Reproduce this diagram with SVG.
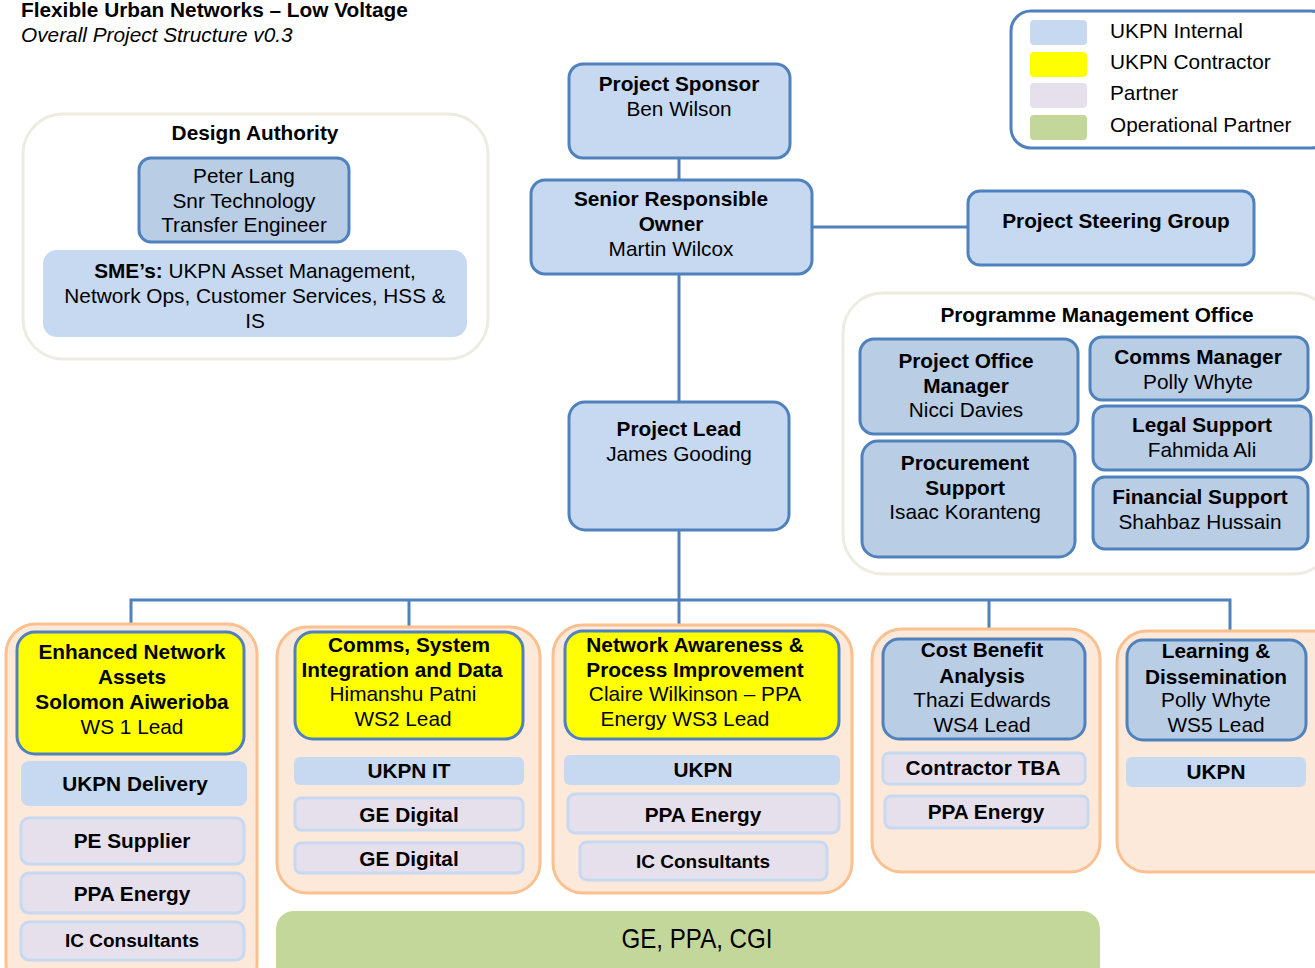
<svg xmlns="http://www.w3.org/2000/svg" width="1315" height="968" viewBox="0 0 1315 968">
<style>
text{font-family:"Liberation Sans",Arial,sans-serif;font-size:20.8px;fill:#000;text-anchor:middle}
.b{font-weight:bold}
.title{text-anchor:start}
.node{fill:#c6d9f1;stroke:#4f81bd;stroke-width:3}
.node2{fill:#b9cde5;stroke:#4f81bd;stroke-width:3}
.lead{fill:#ffff00;stroke:#4f81bd;stroke-width:3}
.grp{fill:#fff;stroke:#eeece1;stroke-width:3}
.ws{fill:#fde9d9;stroke:#fac090;stroke-width:3}
.int{fill:#c6d9f1}
.par{fill:#e6e0ec;stroke:#c6d9f1;stroke-width:3}
.op{fill:#c4d79b}
.conn{stroke:#4f81bd;stroke-width:3;fill:none}
.leg{text-anchor:start}
.sm{font-size:19px}
.big{font-size:28px}
</style>

<g id="title">
<text class="title b" x="21" y="17">Flexible Urban Networks – Low Voltage</text>
<text class="title" x="21" y="42" font-style="italic">Overall Project Structure v0.3</text>
</g>

<g id="legend">
<rect x="1011" y="11" width="320" height="137" rx="20" fill="#fff" stroke="#4f81bd" stroke-width="3"/>
<rect x="1030" y="20" width="57" height="25" rx="4" fill="#c6d9f1"/>
<rect x="1030" y="52" width="57" height="25" rx="4" fill="#ffff00"/>
<rect x="1030" y="83" width="57" height="25" rx="4" fill="#e6e0ec"/>
<rect x="1030" y="115" width="57" height="25" rx="4" fill="#c4d79b"/>
<text class="leg" x="1110" y="38">UKPN Internal</text>
<text class="leg" x="1110" y="69">UKPN Contractor</text>
<text class="leg" x="1110" y="100">Partner</text>
<text class="leg" x="1110" y="132">Operational Partner</text>
</g>

<g id="connectors">
<line class="conn" x1="679" y1="158" x2="679" y2="180"/>
<line class="conn" x1="812" y1="227" x2="968" y2="227"/>
<line class="conn" x1="679" y1="274" x2="679" y2="402"/>
<line class="conn" x1="679" y1="530" x2="679" y2="632"/>
<polyline class="conn" points="131,632 131,600 1230,600 1230,632"/>
<line class="conn" x1="409" y1="600" x2="409" y2="632"/>
<line class="conn" x1="989" y1="600" x2="989" y2="640"/>
</g>

<g id="design-authority">
<rect class="grp" x="23" y="114" width="465" height="245" rx="40"/>
<text class="b" x="255" y="140">Design Authority</text>
</g>
<g id="peter-lang">
<rect class="node2" x="139" y="158" width="210" height="84" rx="12"/>
<text x="244" y="183">Peter Lang</text>
<text x="244" y="208">Snr Technology</text>
<text x="244" y="232">Transfer Engineer</text>
</g>
<g id="smes">
<rect class="int" x="43" y="250" width="424" height="87" rx="14"/>
<text x="255" y="278"><tspan class="b">SME’s:</tspan> UKPN Asset Management,</text>
<text x="255" y="303">Network Ops, Customer Services, HSS &amp;</text>
<text x="255" y="328">IS</text>
</g>

<g id="project-sponsor">
<rect class="node" x="569" y="64" width="221" height="94" rx="14"/>
<text class="b" x="679" y="91">Project Sponsor</text>
<text x="679" y="116">Ben Wilson</text>
</g>
<g id="sro">
<rect class="node" x="531" y="180" width="281" height="94" rx="14"/>
<text class="b" x="671" y="206">Senior Responsible</text>
<text class="b" x="671" y="231">Owner</text>
<text x="671" y="256">Martin Wilcox</text>
</g>
<g id="steering-group">
<rect class="node" x="968" y="191" width="286" height="74" rx="12"/>
<text class="b" x="1116" y="228">Project Steering Group</text>
</g>
<g id="project-lead">
<rect class="node" x="569" y="402" width="220" height="128" rx="16"/>
<text class="b" x="679" y="436">Project Lead</text>
<text x="679" y="461">James Gooding</text>
</g>

<g id="pmo">
<rect class="grp" x="843" y="293" width="490" height="281" rx="40"/>
<text class="b" x="1097" y="322">Programme  Management Office</text>
</g>
<g id="project-office-manager">
<rect class="node2" x="860" y="339" width="218" height="95" rx="14"/>
<text class="b" x="966" y="368">Project Office</text>
<text class="b" x="966" y="393">Manager</text>
<text x="966" y="417">Nicci Davies</text>
</g>
<g id="procurement">
<rect class="node2" x="862" y="441" width="213" height="116" rx="16"/>
<text class="b" x="965" y="470">Procurement</text>
<text class="b" x="965" y="495">Support</text>
<text x="965" y="519">Isaac Koranteng</text>
</g>
<g id="comms-manager">
<rect class="node2" x="1090" y="337" width="218" height="63" rx="12"/>
<text class="b" x="1198" y="364">Comms  Manager</text>
<text x="1198" y="389">Polly  Whyte</text>
</g>
<g id="legal-support">
<rect class="node2" x="1093" y="406" width="218" height="64" rx="12"/>
<text class="b" x="1202" y="432">Legal Support</text>
<text x="1202" y="457">Fahmida  Ali</text>
</g>
<g id="financial-support">
<rect class="node2" x="1093" y="477" width="215" height="72" rx="12"/>
<text class="b" x="1200" y="504">Financial Support</text>
<text x="1200" y="529">Shahbaz  Hussain</text>
</g>

<g id="ws1">
<rect class="ws" x="6" y="624" width="251" height="370" rx="30"/>
<rect class="lead" x="17" y="632" width="227" height="122" rx="18"/>
<text class="b" x="132" y="659">Enhanced Network</text>
<text class="b" x="132" y="684">Assets</text>
<text class="b" x="132" y="709">Solomon Aiwerioba</text>
<text x="132" y="734">WS 1 Lead</text>
<rect class="int" x="21" y="761" width="226" height="45" rx="8"/>
<text class="b" x="135" y="791">UKPN Delivery</text>
<rect class="par" x="21" y="818" width="223" height="46" rx="8"/>
<text class="b" x="132" y="848">PE Supplier</text>
<rect class="par" x="21" y="873" width="223" height="40" rx="8"/>
<text class="b" x="132" y="901">PPA Energy</text>
<rect class="par" x="21" y="922" width="223" height="38" rx="8"/>
<text class="b sm" x="132" y="947">IC Consultants</text>
</g>

<g id="ws2">
<rect class="ws" x="277" y="627" width="263" height="266" rx="30"/>
<rect class="lead" x="295" y="632" width="228" height="107" rx="18"/>
<text class="b" x="409" y="652">Comms, System</text>
<text class="b" x="402" y="677">Integration and Data</text>
<text x="403" y="701">Himanshu  Patni</text>
<text x="403" y="726">WS2 Lead</text>
<rect class="int" x="294" y="757" width="230" height="28" rx="6"/>
<text class="b" x="409" y="778">UKPN IT</text>
<rect class="par" x="295" y="798" width="228" height="32" rx="6"/>
<text class="b" x="409" y="822">GE Digital</text>
<rect class="par" x="295" y="843" width="228" height="30" rx="6"/>
<text class="b" x="409" y="866">GE Digital</text>
</g>

<g id="ws3">
<rect class="ws" x="553" y="625" width="299" height="268" rx="30"/>
<rect class="lead" x="565" y="631" width="274" height="108" rx="18"/>
<text class="b" x="695" y="652">Network Awareness &amp;</text>
<text class="b" x="695" y="677">Process Improvement</text>
<text x="695" y="701">Claire Wilkinson – PPA</text>
<text x="685" y="726">Energy WS3 Lead</text>
<rect class="int" x="564" y="755" width="276" height="30" rx="6"/>
<text class="b" x="703" y="777">UKPN</text>
<rect class="par" x="568" y="794" width="271" height="39" rx="7"/>
<text class="b" x="703" y="822">PPA Energy</text>
<rect class="par" x="580" y="842" width="247" height="38" rx="7"/>
<text class="b sm" x="703" y="868">IC Consultants</text>
</g>

<g id="ws4">
<rect class="ws" x="872" y="629" width="228" height="243" rx="30"/>
<rect class="node2" x="883" y="639" width="202" height="100" rx="16"/>
<text class="b" x="982" y="657">Cost Benefit</text>
<text class="b" x="982" y="683">Analysis</text>
<text x="982" y="707">Thazi Edwards</text>
<text x="982" y="732">WS4 Lead</text>
<rect class="par" x="883" y="753" width="202" height="31" rx="6"/>
<text class="b" x="983" y="775">Contractor TBA</text>
<rect class="par" x="885" y="796" width="203" height="32" rx="6"/>
<text class="b" x="986" y="819">PPA Energy</text>
</g>

<g id="ws5">
<rect class="ws" x="1117" y="631" width="228" height="241" rx="30"/>
<rect class="node2" x="1127" y="640" width="179" height="100" rx="16"/>
<text class="b" x="1216" y="658">Learning &amp;</text>
<text class="b" x="1216" y="684">Dissemination</text>
<text x="1216" y="707">Polly  Whyte</text>
<text x="1216" y="732">WS5 Lead</text>
<rect class="int" x="1126" y="757" width="180" height="30" rx="6"/>
<text class="b" x="1216" y="779">UKPN</text>
</g>

<g id="operational-partners">
<rect class="op" x="276" y="911" width="824" height="80" rx="18"/>
<text class="big" x="697" y="948" textLength="151" lengthAdjust="spacingAndGlyphs">GE, PPA, CGI</text>
</g>
</svg>
